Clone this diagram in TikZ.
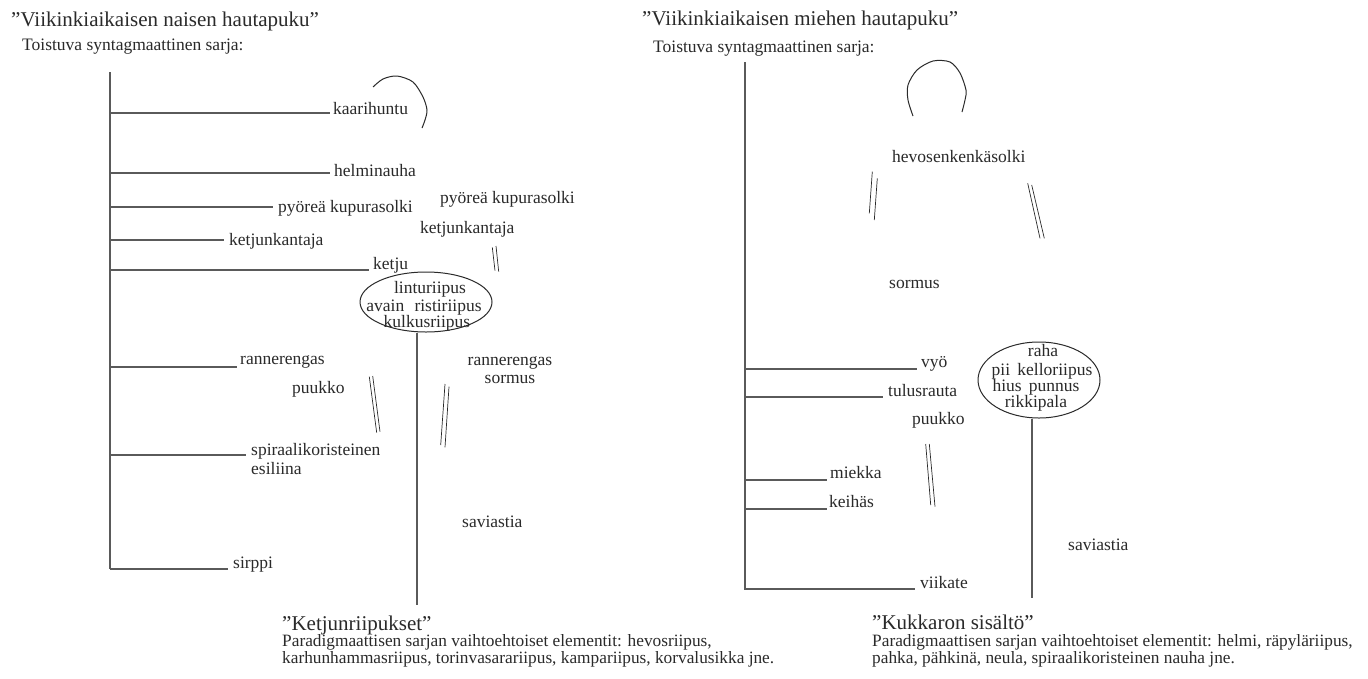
\documentclass[tikz,border=0pt]{standalone}
\usepackage{fontspec}
\setmainfont{Liberation Serif}
\usetikzlibrary{shapes.geometric}
\definecolor{txt}{HTML}{2A2A2A}
\definecolor{lnc}{HTML}{5A5A5A}
\tikzset{
  lbl/.style={font=\fontsize{17.5}{18}\selectfont, text=txt, inner sep=0pt, anchor=base west},
  ttl/.style={font=\fontsize{21}{24}\selectfont, text=txt, inner sep=0pt, anchor=base west},
  ln/.style={draw=lnc, line width=1.1pt},
  mk/.style={draw=txt, line width=0.7pt},
  ring/.style={draw=txt, line width=1pt, ellipse, inner sep=0pt},
}
\begin{document}
\begin{tikzpicture}[x=1pt,y=-1pt]
\path[use as bounding box, fill=white] (0,0) rectangle (1368,678);

% ---------------- LEFT ----------------
\node[ttl] (tL) at (11,26) {"Viikinkiaikaisen naisen hautapuku”};
\node[lbl] (sL) at (22,50) {Toistuva syntagmaattinen sarja:};

\coordinate (trL1) at (110,72);
\coordinate (trL2) at (110,569);
\draw[ln] (trL1) -- (trL2);

\node[lbl] (kaari) at (333,114) {kaarihuntu};
\node[lbl] (helmi) at (334,176) {helminauha};
\node[lbl] (pyoL) at (278,212) {pyöreä kupurasolki};
\node[lbl] (ketkL) at (229,245) {ketjunkantaja};
\node[lbl] (ketju) at (373,269) {ketju};
\node[lbl] (rannL) at (240,364) {rannerengas};
\node[lbl, align=left] (spir) at (251,474) {spiraalikoristeinen\\[1pt]esiliina};
\node[lbl] (sirppi) at (233,568) {sirppi};

\draw[ln] (110,113) -- (330,113);
\draw[ln] (110,173) -- (330,173);
\draw[ln] (110,207) -- (273,207);
\draw[ln] (110,240) -- (224,240);
\draw[ln] (110,270) -- (369,270);
\draw[ln] (110,367) -- (237,367);
\draw[ln] (110,455) -- (246,455);
\draw[ln] (110,569) -- (228,569);

% bow
\draw[mk, line width=1pt] plot[smooth] coordinates {(373,87) (383,79) (397,76) (413,82) (423,97) (427,110) (425,120) (422,128)};

\node[lbl] (pyoR) at (440,203) {pyöreä kupurasolki};
\node[lbl] (ketkR) at (420,233) {ketjunkantaja};
\node[lbl] (puukL) at (292,393) {puukko};
\node[lbl, anchor=base, align=center] (rannR) at (510,383) {rannerengas\\[0pt]sormus};
\node[lbl] (saviL) at (462,527) {saviastia};

% double marks
\draw[mk] (492.3,247.3) -- (495,270.7);
\draw[mk] (496,246) -- (498.7,271.7);
\draw[mk] (369.3,376.7) -- (376.7,432.7);
\draw[mk] (372.7,376) -- (380,431.7);
\draw[mk] (445,384) -- (440.7,445);
\draw[mk] (449,386.7) -- (445,447.3);

% ellipse
\node[ring, minimum width=132pt, minimum height=60pt] (ellL) at (426,302) {};
\node[lbl, anchor=base] (e1) at (430,293) {linturiipus};
\node[lbl, anchor=base] (e2) at (424,311) {avain\,\, ristiriipus};
\node[lbl, anchor=base] (e3) at (427,327) {kulkusriipus};
\coordinate (ellLend) at (417,605);
\draw[ln] (ellL.south -| ellLend) -- (ellLend);

\node[ttl] (kt) at (282,630) {"Ketjunriipukset”};
\node[lbl, font=\fontsize{17.3}{16.5}\selectfont, align=left] (ktx) at (282,663) {Paradigmaattisen sarjan vaihtoehtoiset elementit: hevosriipus,\\karhunhammasriipus, torinvasarariipus, kampariipus, korvalusikka jne.};

% ---------------- RIGHT ----------------
\node[ttl] (tR) at (642,25) {"Viikinkiaikaisen miehen hautapuku”};
\node[lbl] (sR) at (653,52) {Toistuva syntagmaattinen sarja:};

\coordinate (trR1) at (745,62);
\coordinate (trR2) at (745,590);
\draw[ln] (trR1) -- (trR2);

\draw[mk, line width=1pt] plot[smooth] coordinates {(913,116) (908,100) (908,85) (917,70) (933,61) (950,62) (960,73) (966,90) (965,100) (962,112)};

\node[lbl] (hevo) at (892,162) {hevosenkenkäsolki};
\node[lbl] (sorm) at (889,288) {sormus};
\node[lbl] (vyo) at (921,367) {vyö};
\node[lbl] (tulu) at (888,396) {tulusrauta};
\node[lbl] (puukR) at (912,424) {puukko};
\node[lbl] (miek) at (830,478) {miekka};
\node[lbl] (keih) at (829,507) {keihäs};
\node[lbl] (viik) at (920,588) {viikate};
\node[lbl] (saviR) at (1068,550) {saviastia};

\draw[ln] (745,369) -- (917,369);
\draw[ln] (745,397) -- (883,397);
\draw[ln] (745,480) -- (827,480);
\draw[ln] (745,509) -- (827,509);
\draw[ln] (745,589) -- (915,589);

\draw[mk] (872.3,171.7) -- (869.3,213.3);
\draw[mk] (877.3,178.3) -- (874.3,220);
\draw[mk] (1027.7,183.3) -- (1040,238.3);
\draw[mk] (1031.7,185) -- (1044.3,238.3);
\draw[mk] (925.7,444) -- (930.7,505);
\draw[mk] (929.3,444) -- (935,506.7);

\node[ring, minimum width=122pt, minimum height=76pt] (ellR) at (1039,380) {};
\node[lbl, anchor=base] (r1) at (1043,356) {raha};
\node[lbl, anchor=base] (r2) at (1042,375) {pii\, kelloriipus};
\node[lbl, anchor=base] (r3) at (1036,391) {hius\, punnus};
\node[lbl, anchor=base] (r4) at (1036,407) {rikkipala};
\coordinate (ellRend) at (1032,598);
\draw[ln] (ellR.south -| ellRend) -- (ellRend);

\node[ttl] (kk) at (872,629) {"Kukkaron sisältö”};
\node[lbl, font=\fontsize{17.3}{16.5}\selectfont, align=left] (kkx) at (872,663) {Paradigmaattisen sarjan vaihtoehtoiset elementit: helmi, räpyläriipus,\\pahka, pähkinä, neula, spiraalikoristeinen nauha jne.};
\end{tikzpicture}
\end{document}
